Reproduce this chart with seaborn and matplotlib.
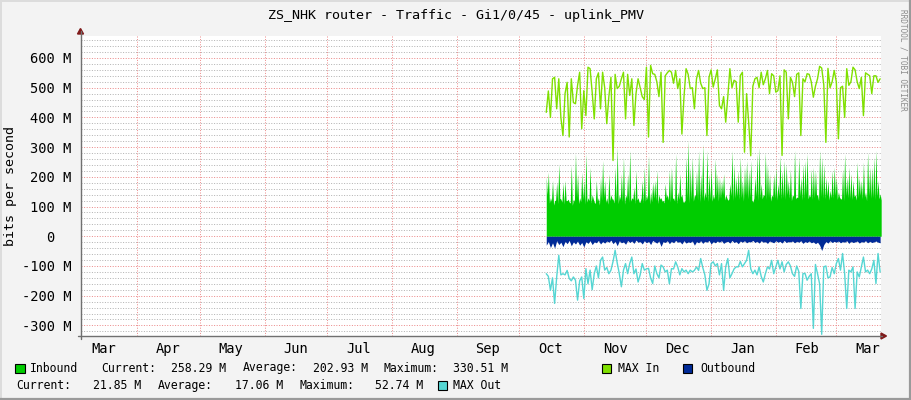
import matplotlib
matplotlib.use("Agg")
import numpy as np
import pandas as pd
import matplotlib.pyplot as plt
import matplotlib.dates as mdates
from matplotlib.ticker import MultipleLocator, FuncFormatter
from matplotlib.patches import Rectangle, Polygon
from matplotlib.lines import Line2D
import seaborn as sns

# ---------------- data ----------------
title = "ZS_NHK router - Traffic - Gi1/0/45 - uplink_PMV"
y_label = "bits per second"
watermark = "RRDTOOL / TOBI OETIKER"
first_day = "2023-10-14"
x_start = "2023-03-04 19:00"
x_end = "2024-03-22 10:00"

# daily peaks / troughs of the Inbound area (M bits/s)
inbound_peak = [
    200, 216, 130, 188, 120, 183, 244, 125, 180, 188,
    120, 115, 239, 125, 280, 211, 130, 216, 188, 278,
    130, 233, 140, 115, 188, 130, 199, 255, 188, 130,
    211, 140, 125, 233, 300, 140, 211, 267, 140, 211,
    289, 130, 166, 222, 130, 115, 188, 233, 140, 272,
    149, 183, 188, 222, 140, 130, 121, 177, 140, 222,
    233, 130, 278, 150, 211, 140, 115, 267, 323, 233,
    267, 140, 222, 289, 211, 311, 150, 289, 211, 233,
    140, 261, 211, 199, 188, 211, 140, 121, 177, 289,
    244, 199, 222, 267, 188, 233, 255, 222, 255, 115,
    199, 278, 300, 177, 140, 283, 244, 211, 140, 211,
    233, 177, 272, 222, 255, 244, 188, 227, 140, 289,
    132, 267, 199, 244, 255, 278, 140, 227, 233, 222,
    140, 289, 267, 244, 199, 188, 155, 222, 233, 199,
    150, 126, 227, 278, 199, 233, 211, 188, 140, 250,
    199, 188, 250, 149, 283, 233, 233, 267, 289, 188,
    143,
]
inbound_trough = [
    140, 112, 118, 105, 122, 110, 128, 115, 108, 120,
    125, 112, 104, 118, 130, 110, 116, 124, 108, 115,
    120, 112, 126, 110, 118, 105, 122, 130, 114, 108,
    120, 126, 112, 118, 110, 124, 116, 108, 128, 114,
    118, 125, 110, 122, 115, 130, 112, 118, 124, 108,
    116, 128, 120, 110, 125, 118, 112, 130, 122, 115,
    126, 118, 110, 124, 132, 116, 120, 128, 112, 125,
    118, 135, 122, 114, 128, 120, 130, 116, 124, 118,
    125, 132, 118, 128, 140, 122, 130, 126, 136, 120,
    128, 134, 124, 130, 118, 138, 126, 132, 122, 128,
    134, 120, 130, 126, 138, 124, 130, 118, 132, 128,
    122, 136, 126, 130, 124, 140, 128, 120, 134, 126,
    130, 136, 122, 128, 140, 126, 132, 124, 130, 138,
    120, 134, 128, 126, 136, 122, 130, 128, 138, 124,
    132, 126, 120, 136, 130, 128, 124, 134, 122, 130,
    138, 126, 132, 120, 136, 128, 130, 124, 134, 126,
    122,
]
max_in = [
    417, 489, 400, 530, 535, 429, 530, 400, 339, 480,
    518, 334, 530, 450, 446, 508, 552, 362, 490, 406,
    569, 564, 485, 395, 530, 550, 429, 552, 500, 379,
    470, 535, 255, 545, 497, 505, 530, 552, 395, 545,
    474, 530, 373, 480, 530, 500, 470, 460, 569, 334,
    575, 547, 545, 520, 470, 552, 316, 540, 550, 558,
    552, 515, 558, 497, 530, 344, 468, 564, 545, 497,
    500, 429, 530, 558, 515, 497, 500, 339, 535, 560,
    502, 530, 560, 440, 429, 470, 384, 470, 564, 500,
    525, 520, 384, 541, 552, 283, 480, 384, 271, 505,
    530, 535, 500, 552, 510, 530, 558, 480, 547, 540,
    485, 490, 540, 272, 560, 552, 395, 535, 518, 470,
    545, 550, 339, 530, 520, 547, 545, 520, 468, 505,
    530, 572, 566, 510, 316, 565, 500, 520, 558, 520,
    328, 500, 505, 400, 564, 508, 520, 569, 560, 520,
    497, 535, 406, 550, 545, 540, 480, 540, 540, 518,
    530,
]
# outbound values (magnitudes, drawn below zero)
outbound = [
    30, 18, 38, 22, 40, 15, 28, 20, 35, 17, 25, 14, 32, 19, 26, 16, 30, 21, 36, 18,
    24, 15, 28, 19, 22, 14, 26, 18, 23, 16, 20, 13, 25, 17, 32, 15, 22, 19, 27, 14,
    21, 16, 24, 13, 20, 18, 26, 15, 22, 17, 28, 14, 19, 23, 16, 34, 18, 21, 15, 25,
    17, 22, 14, 20, 18, 26, 15, 23, 19, 21, 16, 30, 18, 22, 15, 24, 17, 20, 14, 26,
    18, 22, 16, 20, 15, 24, 19, 17, 23, 14, 21, 18, 25, 16, 20, 15, 22, 18, 19, 14,
    21, 17, 23, 15, 20, 18, 24, 16, 19, 22, 15, 20, 17, 23, 14, 21, 18, 19, 16, 22,
    17, 20, 15, 24, 18, 21, 16, 22, 19, 25, 20, 30, 48, 28, 18, 23, 15, 21, 17, 20,
    16, 22, 18, 20, 15, 24, 17, 21, 19, 16, 23, 18, 20, 15, 22, 17, 21, 19, 16, 20,
    22,
]
max_out = [
    126, 135, 182, 140, 226, 137, 64, 130, 126, 130,
    115, 142, 150, 137, 148, 215, 150, 137, 210, 109,
    160, 114, 180, 126, 100, 140, 81, 70, 114, 105,
    126, 114, 85, 47, 90, 126, 170, 114, 92, 126,
    92, 70, 126, 110, 154, 130, 92, 114, 110, 108,
    140, 159, 100, 126, 140, 97, 103, 120, 114, 160,
    109, 110, 86, 103, 130, 109, 120, 114, 126, 114,
    120, 115, 103, 115, 75, 105, 130, 182, 160, 92,
    86, 100, 92, 130, 92, 182, 103, 75, 140, 126,
    110, 103, 103, 85, 103, 92, 81, 47, 110, 126,
    114, 130, 103, 135, 154, 126, 103, 110, 81, 126,
    103, 81, 110, 86, 120, 95, 86, 100, 126, 135,
    100, 118, 243, 126, 125, 148, 135, 126, 310, 95,
    126, 160, 330, 103, 100, 140, 137, 105, 126, 92,
    75, 114, 58, 126, 243, 114, 120, 103, 243, 120,
    137, 103, 70, 120, 114, 126, 110, 81, 159, 58,
    120,
]
month_labels = ["Mar", "Apr", "May", "Jun", "Jul", "Aug", "Sep",
                "Oct", "Nov", "Dec", "Jan", "Feb", "Mar"]
in_stats = ["258.29 M", "202.93 M", "330.51 M"]
out_stats = ["21.85 M", "17.06 M", "52.74 M"]

# ---------------- colours ----------------
C_IN = "#00CC00"
C_MAXIN = "#7FE000"
C_OUT = "#002A97"
C_MAXOUT = "#55D6D3"
BG = "#F3F3F3"
MGRID = "#EC8C8C"
GRID = "#B4B4B4"
AXIS = "#707070"
ARROW = "#7F1A1A"

sns.set_theme(style="white")
plt.rcParams["font.family"] = ["DejaVu Sans Mono", "DejaVu Sans"]

n = min(len(inbound_peak), len(inbound_trough), len(max_in), len(outbound), len(max_out))
days = pd.date_range(first_day, periods=n, freq="D")
df = pd.DataFrame({
    "date": days,
    "max_in": max_in[:n],
    "max_out": [-v for v in max_out[:n]],
})

t_in = np.empty(2 * n, dtype="datetime64[ns]")
t_in[0::2] = days.values
t_in[1::2] = (days + pd.Timedelta(hours=12)).values
v_in = np.empty(2 * n)
v_in[0::2] = inbound_peak[:n]
v_in[1::2] = inbound_trough[:n]

W, H = 911, 400
fig = plt.figure(figsize=(W / 100, H / 100), dpi=100, facecolor=BG)


def fx(x):
    return x / W


def fy(y):
    return 1 - y / H


L, R, T, B = 80.5, 881.0, 36.0, 336.0
ax = fig.add_axes([fx(L), fy(B), (R - L) / W, (B - T) / H])
ax.set_facecolor("white")

# areas and lines
ax.fill_between(mdates.date2num(t_in), 0, v_in, color=C_IN, lw=0, zorder=3)
sns.lineplot(data=df, x="date", y="max_in", ax=ax, color=C_MAXIN, lw=1.0,
             legend=False, zorder=4)
ax.fill_between(mdates.date2num(days.values), 0, [-v for v in outbound[:n]],
                color=C_OUT, lw=0, zorder=5)
sns.lineplot(data=df, x="date", y="max_out", ax=ax, color=C_MAXOUT, lw=1.0,
             legend=False, zorder=6)

ax.set_xlim(pd.Timestamp(x_start), pd.Timestamp(x_end))
ax.set_ylim(-335.7, 674)
ax.set_xlabel("")
ax.set_ylabel("")

DOT = (0, (1, 1.6))
# y axis ticks/grid
ax.yaxis.set_major_locator(MultipleLocator(100))
ax.yaxis.set_minor_locator(MultipleLocator(20))
ax.yaxis.set_major_formatter(FuncFormatter(
    lambda v, p: "0\u2007\u2007" if abs(v) < 1e-9 else f"{v:.0f} M"))
ax.yaxis.grid(True, which="minor", color=GRID, ls=DOT, lw=0.72, zorder=1, snap=True)
ax.yaxis.grid(True, which="major", color=MGRID, ls=DOT, lw=0.72, zorder=2, snap=True)

# x axis: month grid at month start, labels mid-month
ax.xaxis.set_minor_locator(mdates.MonthLocator(bymonthday=1))
ax.xaxis.set_major_locator(mdates.MonthLocator(bymonthday=16))
ax.xaxis.set_major_formatter(mdates.DateFormatter("%b"))
ax.xaxis.grid(True, which="minor", color=MGRID, ls=DOT, lw=0.72, zorder=2, snap=True)
ax.xaxis.grid(False, which="major")
ax.set_axisbelow(True)

ax.tick_params(axis="x", which="major", length=0, pad=4, labelsize=9.9, colors="#000000")
ax.tick_params(axis="x", which="minor", length=2.5, direction="out", color=MGRID, width=0.72)
ax.tick_params(axis="y", which="major", length=2, direction="inout", pad=5.5,
               labelsize=9.9, color=AXIS, width=0.8, labelcolor="#000000")
ax.tick_params(axis="y", which="minor", length=1.5, direction="inout", color=AXIS, width=0.6)
for s in ax.spines.values():
    s.set_visible(False)

# axis lines with arrows (figure pixel coordinates)
fig.add_artist(Line2D([fx(L), fx(L)], [fy(B + 3), fy(31)], color=AXIS, lw=1.0))
fig.add_artist(Line2D([fx(L - 3), fx(R + 1)], [fy(B), fy(B)], color=AXIS, lw=1.0))
fig.add_artist(Polygon([[fx(L - 3), fy(34)], [fx(L + 3), fy(34)], [fx(L), fy(28.5)]],
                       closed=True, color=ARROW, transform=fig.transFigure))
fig.add_artist(Polygon([[fx(R), fy(B - 3)], [fx(R), fy(B + 3)], [fx(R + 5.5), fy(B)]],
                       closed=True, color=ARROW, transform=fig.transFigure))

# frame shading
fig.add_artist(Line2D([0, 1], [fy(0.5), fy(0.5)], color="#DCDCDC", lw=1.4))
fig.add_artist(Line2D([fx(0.5), fx(0.5)], [0, 1], color="#DCDCDC", lw=1.4))
fig.add_artist(Line2D([0, 1], [fy(399), fy(399)], color="#9A9A9A", lw=1.6))
fig.add_artist(Line2D([fx(910), fx(910)], [0, 1], color="#9A9A9A", lw=1.6))

# texts
fig.text(fx(455.5), fy(15), title, ha="center", va="center", fontsize=9.6, color="#000000")
fig.text(fx(10.5), fy(186), y_label, rotation=90, ha="center", va="center",
         fontsize=9.6, color="#000000")
fig.text(fx(902.5), fy(60), watermark, rotation=270, ha="center", va="center",
         fontsize=5.6, color="#8C8C8C")

LFS = 8.3


def square(x, y, c):
    fig.add_artist(Rectangle((fx(x), fy(y + 9)), 9 / W, 9 / H, facecolor=c,
                             edgecolor="#000000", lw=0.8, transform=fig.transFigure))


def ltext(x, y, s):
    fig.text(fx(x), fy(y), s, ha="left", va="center", fontsize=LFS, color="#000000")


r1, r2 = 368, 385.5
square(15.5, r1 - 4.5, C_IN)
ltext(30, r1, "Inbound")
ltext(101.7, r1, "Current:")
ltext(171, r1, in_stats[0])
ltext(243, r1, "Average:")
ltext(312.7, r1, in_stats[1])
ltext(383, r1, "Maximum:")
ltext(453, r1, in_stats[2])
square(601.5, r1 - 4.5, C_MAXIN)
ltext(618, r1, "MAX In")
square(683, r1 - 4.5, C_OUT)
ltext(700.5, r1, "Outbound")

ltext(16.7, r2, "Current:")
ltext(93, r2, out_stats[0])
ltext(157.7, r2, "Average:")
ltext(235, r2, out_stats[1])
ltext(299, r2, "Maximum:")
ltext(375, r2, out_stats[2])
square(437.5, r2 - 4.5, C_MAXOUT)
ltext(453, r2, "MAX Out")

fig.savefig("out.png", dpi=100, facecolor=BG)
